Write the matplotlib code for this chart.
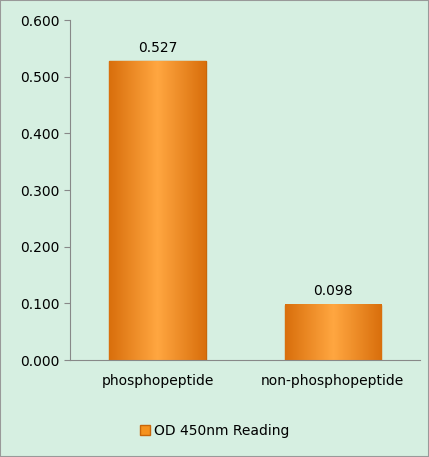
import matplotlib
matplotlib.use("Agg")
import matplotlib.pyplot as plt
import numpy as np

categories = ["phosphopeptide", "non-phosphopeptide"]
values = [0.527, 0.098]
labels = ["0.527", "0.098"]
series_name = "OD 450nm Reading"

bg = "#d6efe1"
fig = plt.figure(figsize=(4.29, 4.57), dpi=100, facecolor=bg)
ax = fig.add_axes([0.163, 0.212, 0.817, 0.744], facecolor=bg)
x = np.arange(len(categories))
bars = ax.bar(x, values, width=0.55, color="#f5921e", edgecolor="#c8660a", linewidth=1, label=series_name)
# simple vertical shading to mimic gradient
for b in bars:
    bx, bw, bh = b.get_x(), b.get_width(), b.get_height()
    grad = np.linspace(0, 1, 100).reshape(1, -1)
    grad = 1 - np.abs(grad - 0.5) * 2
    ax.imshow(grad, extent=[bx, bx + bw, 0, bh], aspect="auto", cmap=matplotlib.colors.LinearSegmentedColormap.from_list("o", ["#d96f0c", "#ffa640"]), zorder=2)
for xi, v, l in zip(x, values, labels):
    ax.text(xi, v + 0.012, l, ha="center", va="bottom", fontsize=10, family="DejaVu Sans")
ax.set_xlim(-0.5, 1.5)
ax.set_ylim(0, 0.6)
ax.set_yticks(np.arange(0, 0.61, 0.1))
ax.set_yticklabels([f"{t:.3f}" for t in np.arange(0, 0.61, 0.1)], fontsize=10)
ax.set_xticks(x)
ax.set_xticklabels(categories, fontsize=10)
ax.tick_params(axis="x", length=0, pad=10)
ax.tick_params(axis="y", length=4, color="#888888")
for s in ["top", "right"]:
    ax.spines[s].set_visible(False)
ax.spines["left"].set_color("#888888")
ax.spines["bottom"].set_color("#888888")
fig.legend(handles=[bars], labels=[series_name], loc="center", bbox_to_anchor=(0.5, 0.057), frameon=False, fontsize=10, handlelength=0.7, handleheight=0.7, handletextpad=0.3)
fig.patches.append(plt.Rectangle((0, 0), 1, 1, transform=fig.transFigure, fill=False, edgecolor="#999999", linewidth=1.5))
fig.savefig("out.png", dpi=100, facecolor=bg)
